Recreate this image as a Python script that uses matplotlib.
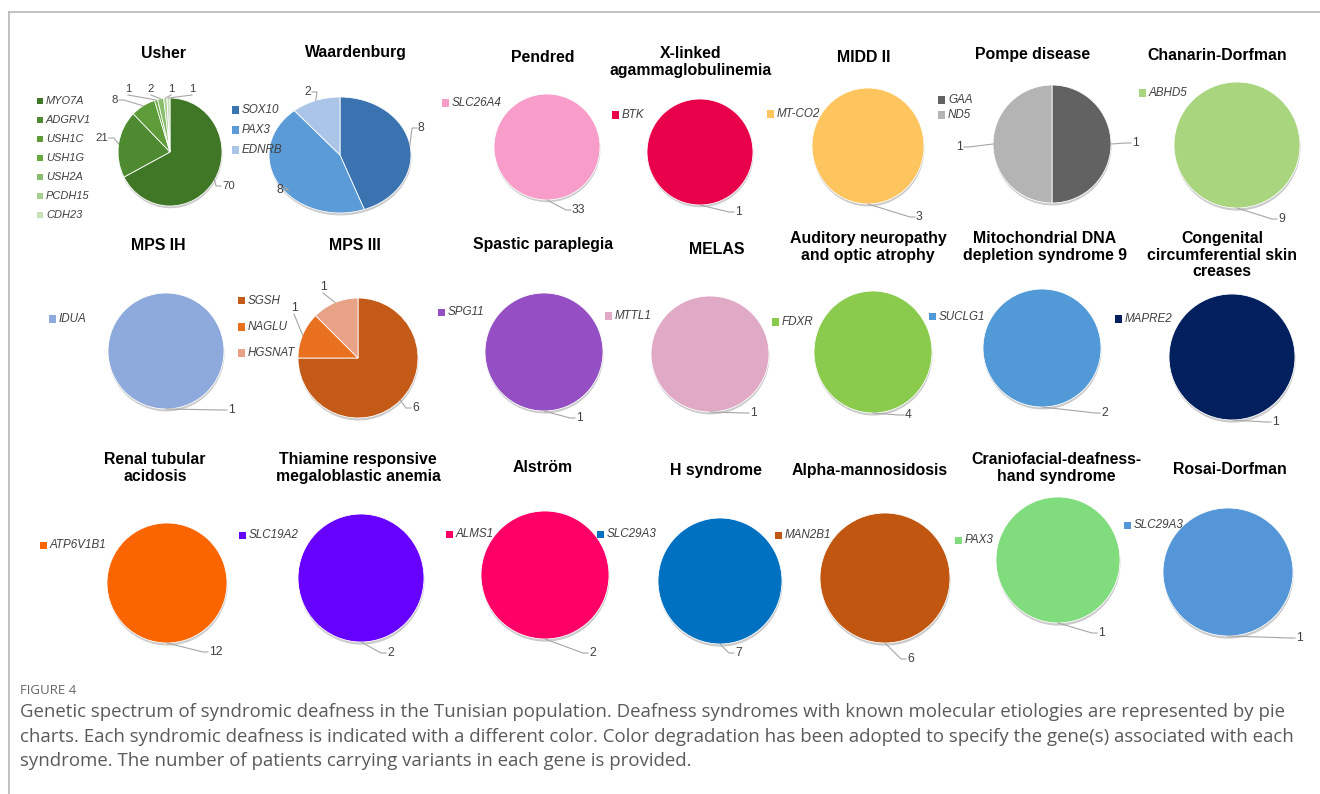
import math
import matplotlib.pyplot as plt
from matplotlib.patches import Rectangle
from matplotlib.lines import Line2D

# syndromes, genes and number of patients per gene
syndromes = ["Usher", "Waardenburg", "Pendred", "X-linked\nagammaglobulinemia", "MIDD II",
             "Pompe disease", "Chanarin-Dorfman", "MPS IH", "MPS III", "Spastic paraplegia",
             "MELAS", "Auditory neuropathy\nand optic atrophy",
             "Mitochondrial DNA\ndepletion syndrome 9",
             "Congenital\ncircumferential skin\ncreases", "Renal tubular\nacidosis",
             "Thiamine responsive\nmegaloblastic anemia", "Alström", "H syndrome",
             "Alpha-mannosidosis", "Craniofacial-deafness-\nhand syndrome", "Rosai-Dorfman"]

genes = [["MYO7A", "ADGRV1", "USH1C", "USH1G", "USH2A", "PCDH15", "CDH23"],
         ["SOX10", "PAX3", "EDNRB"], ["SLC26A4"], ["BTK"], ["MT-CO2"], ["GAA", "ND5"],
         ["ABHD5"], ["IDUA"], ["SGSH", "NAGLU", "HGSNAT"], ["SPG11"], ["MTTL1"], ["FDXR"],
         ["SUCLG1"], ["MAPRE2"], ["ATP6V1B1"], ["SLC19A2"], ["ALMS1"], ["SLC29A3"],
         ["MAN2B1"], ["PAX3"], ["SLC29A3"]]

counts = [[70, 21, 8, 1, 2, 1, 1], [8, 8, 2], [33], [1], [3], [1, 1], [9], [1], [6, 1, 1],
          [1], [1], [4], [2], [1], [12], [2], [2], [7], [6], [1], [1]]

colors = [["#3f7727", "#4e8a30", "#5e9c3a", "#68a942", "#88bd6c", "#a6cf8f", "#c7e2b9"],
          ["#3a73b0", "#5a9bd8", "#abc5e8"], ["#f89cc9"], ["#e8004b"], ["#fec55f"],
          ["#626262", "#b4b4b4"], ["#a9d57f"], ["#8eaadc"],
          ["#c45a17", "#e8701e", "#e8a286"], ["#944fc2"], ["#e0a9c6"], ["#8acb4d"],
          ["#519ad7"], ["#02205e"], ["#fa6500"], ["#6600ff"], ["#ff0066"], ["#0070c0"],
          ["#c0560f"], ["#80dc7c"], ["#5496d8"]]

# layout in pixels from the top-left corner
W, H = 1320, 794
pie_boxes = [(170, 152, 52, 54), (340, 155, 71, 58), (547, 147, 53, 53), (700, 152, 53, 53),
             (868, 146, 56, 58), (1052, 144, 59, 59), (1237, 145, 63, 63),
             (166, 351, 58, 58), (358, 358, 60, 60), (544, 352, 59, 59), (710, 354, 59, 58),
             (873, 352, 59, 61), (1042, 348, 59, 59), (1232, 357, 63, 63),
             (167, 583, 60, 60), (361, 578, 63, 64), (545, 575, 64, 64), (720, 581, 62, 63),
             (885, 578, 65, 65), (1058, 560, 62, 63), (1228, 572, 65, 64)]
title_pos = [(163, 53), (356, 53), (543, 57), (691, 62), (864, 57), (1033, 55), (1217, 55),
             (158, 245), (355, 245), (543, 245), (717, 250), (868, 247), (1045, 247),
             (1222, 255), (155, 468), (358, 468), (543, 467), (716, 470), (870, 470),
             (1056, 468), (1230, 470)]
legend_pos = [(37, 101, 19), (232, 110, 20), (442, 103, 0), (612, 115, 0), (767, 114, 0),
              (938, 100, 15), (1139, 93, 0), (49, 319, 0), (238, 301, 26), (438, 312, 0),
              (605, 316, 0), (772, 322, 0), (929, 317, 0), (1115, 319, 0), (40, 545, 0),
              (239, 535, 0), (446, 534, 0), (597, 534, 0), (775, 535, 0), (955, 540, 0),
              (1124, 525, 0)]
value_pos = [[(222, 186, "l"), (108, 138, "r"), (118, 100, "r"), (128, 89, "c"),
              (151, 89, "c"), (171, 89, "c"), (192, 89, "c")],
             [(418, 128, "l"), (283, 190, "r"), (311, 92, "r")],
             [(572, 210, "l")], [(735, 212, "l")], [(916, 217, "l")],
             [(1132, 143, "l"), (963, 147, "r")], [(1278, 219, "l")], [(228, 410, "l")],
             [(412, 408, "l"), (294, 308, "c"), (323, 287, "c")], [(576, 418, "l")],
             [(750, 413, "l")], [(905, 415, "l")], [(1101, 413, "l")], [(1272, 422, "l")],
             [(209, 652, "l")], [(387, 653, "l")], [(589, 653, "l")], [(735, 653, "l")],
             [(907, 659, "l")], [(1098, 633, "l")], [(1296, 638, "l")]]

plt.rcParams["font.family"] = ["Liberation Sans", "DejaVu Sans"]
fig = plt.figure(figsize=(W / 100, H / 100), dpi=100)
to_fig = fig.transFigure.inverted()


def fx(x):
    return x / W


def fy(y):
    return 1 - y / H


text_col = "#404040"
line_col = "#a6a6a6"
m = 1.12

for i, name in enumerate(syndromes):
    cx, cy, rx, ry = pie_boxes[i]
    ax = fig.add_axes([fx(cx - rx * m), fy(cy + ry * m), 2 * rx * m / W, 2 * ry * m / H])
    wedges, _ = ax.pie(counts[i], colors=colors[i], startangle=90, counterclock=False,
                       wedgeprops=dict(edgecolor="white", linewidth=0.6),
                       shadow=dict(ox=0.006, oy=-0.03, facecolor="#8c8c8c",
                                   edgecolor="none", alpha=0.45))
    ax.set_aspect("auto")
    ax.set_xlim(-m, m)
    ax.set_ylim(-m, m)

    tx, ty = title_pos[i]
    fig.text(fx(tx), fy(ty), name, ha="center", va="center", fontsize=11.4,
             fontweight="bold", color="black", linespacing=1.15)

    small = i == 0
    fs = 7.9 if small else 8.4
    sq = 6 if small else 7
    lx0, ly0, step = legend_pos[i]
    for j, g in enumerate(genes[i]):
        ly = ly0 + j * step
        fig.add_artist(Rectangle((fx(lx0), fy(ly + sq / 2)), sq / W, sq / H,
                                 transform=fig.transFigure, facecolor=colors[i][j],
                                 edgecolor="none"))
        fig.text(fx(lx0 + sq + 3), fy(ly), g, ha="left", va="center", fontsize=fs,
                 style="italic", color=text_col)

    # value labels with leader lines from the middle of each wedge's rim
    for j, w in enumerate(wedges):
        th = math.radians((w.theta1 + w.theta2) / 2)
        ex, ey = to_fig.transform(ax.transData.transform((math.cos(th), math.sin(th))))
        vx, vy, mode = value_pos[i][j]
        if mode == "l":
            xs = [ex, fx(vx - 6), fx(vx - 1)]
            ys = [ey, fy(vy), fy(vy)]
            ha = "left"
        elif mode == "r":
            xs = [ex, fx(vx + 6), fx(vx + 1)]
            ys = [ey, fy(vy), fy(vy)]
            ha = "right"
        else:
            xs = [ex, fx(vx)]
            ys = [ey, fy(vy + 6)]
            ha = "center"
        fig.add_artist(Line2D(xs, ys, transform=fig.transFigure, color=line_col, lw=0.8))
        fig.text(fx(vx), fy(vy), str(counts[i][j]), ha=ha, va="center", fontsize=fs + 0.3,
                 color=text_col)

# frame around the figure panel
fig.add_artist(Line2D([fx(9), fx(W)], [fy(12), fy(12)], transform=fig.transFigure,
                      color="#bdbdbd", lw=1.3))
fig.add_artist(Line2D([fx(9), fx(9)], [fy(12), fy(H)], transform=fig.transFigure,
                      color="#bdbdbd", lw=1.3))

cap_font = ["Open Sans", "DejaVu Sans"]
fig.text(fx(20), fy(690), "FIGURE 4", ha="left", va="center", fontsize=9.5,
         color="#666666", family=cap_font)
caption = ["Genetic spectrum of syndromic deafness in the Tunisian population. Deafness syndromes with known molecular etiologies are represented by pie",
           "charts. Each syndromic deafness is indicated with a different color. Color degradation has been adopted to specify the gene(s) associated with each",
           "syndrome. The number of patients carrying variants in each gene is provided."]
for k, line in enumerate(caption):
    fig.text(fx(20), fy(712 + k * 24.5), line, ha="left", va="center", fontsize=13.4,
             color="#5a5a5a", family=cap_font)

fig.savefig("out.png", dpi=100, facecolor="white")
